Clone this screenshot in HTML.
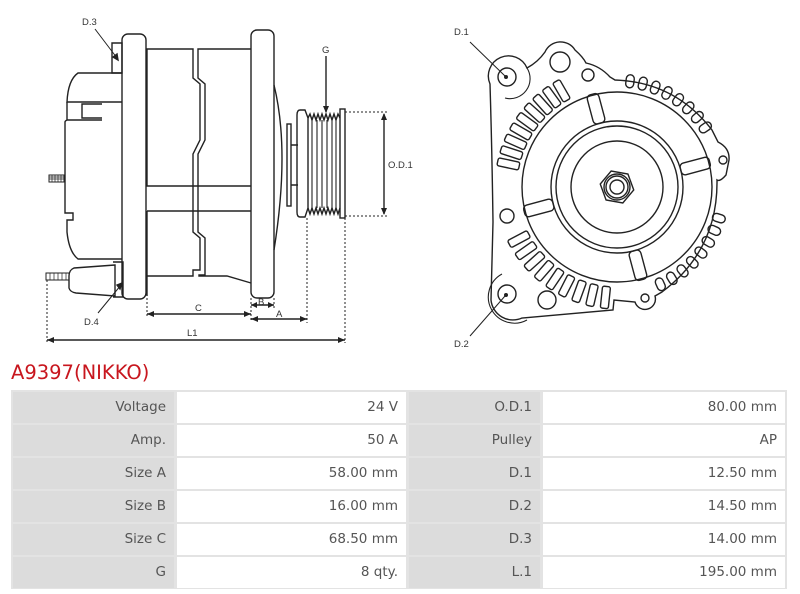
<!DOCTYPE html>
<html><head><meta charset="utf-8"><style>
body{margin:0;width:800px;height:594px;background:#fff;position:relative;overflow:hidden;font-family:"DejaVu Sans","Liberation Sans",sans-serif}
svg{position:absolute;left:0;top:0}
.t{position:absolute;left:11px;top:390px;width:776px;height:199px;background:#e3e3e3}
.c{position:absolute;height:31px;line-height:31px;text-align:right;font-size:13.5px;color:#555;box-sizing:border-box;padding-right:8px}
.g{background:#dcdcdc}.w{background:#fff}
h1{position:absolute;left:11px;top:361px;margin:0;font-weight:normal;font-size:19.5px;color:#c8161e;font-family:"DejaVu Sans",sans-serif}
</style></head><body>
<svg width="800" height="360" viewBox="0 0 800 360" fill="none" stroke="#222" stroke-width="1.4">
<!-- left drawing -->
<path d="M112,43 H122 V73 H112 Z"/>
<path d="M122,73 H78 Q68,80 67,102 H122"/>
<path d="M102,104 H82 V118 H102"/>
<path d="M67,102 V120 H102 M67,120 Q65,121 65,122 V213 H73 V220 H67 V232 Q69,252 78,259 H122"/>
<rect x="49" y="175" width="15" height="7" stroke-width="1"/>
<path d="M49,177 H64 M49,179 H64 M52,175 V182 M55,175 V182 M58,175 V182 M61,175 V182" stroke-width="0.7"/>
<path d="M115,265 L74,268 Q69,270 69,276 V288 Q70,292 76,293 L115,296 Z"/>
<path d="M113,262 H123 V297 H113"/>
<rect x="46" y="273" width="23" height="7" stroke-width="1"/>
<path d="M50,273 V280 M54,273 V280 M58,273 V280 M62,273 V280 M66,273 V280" stroke-width="0.7"/>
<rect x="122" y="34" width="24" height="265" rx="6"/>
<rect x="251" y="30" width="23" height="268" rx="6"/>
<path d="M146,49 H193 V78 L200,84 V140 L193,154 V232 L200,238 V270 H193 V276 H147"/>
<path d="M251,49 H198 V78 L205,84 V140 L198,154 V232 L205,238 V275 H199 V276 H227 L251,283"/>
<path d="M147,49 V186 H251 M147,211 H251 M147,211 V296"/>
<path d="M274,85 Q290,150 274,250"/>
<rect x="287" y="124" width="4" height="82"/>
<path d="M291,145 H298 M291,185 H298"/>
<path d="M300,110 H305 L308,118 V208 L305,217 H300 Q297,217 297,212 V115 Q297,110 300,110 Z"/>
<rect x="340" y="109" width="5" height="109"/>
<path d="M308,118 L310,114 L312,120 L314,114 L316,120 L318,114 L320,120 L322,114 L324,120 L326,114 L328,120 L330,114 L332,120 L334,114 L336,120 L338,114 L340,118"/>
<path d="M308,208 L310,214 L312,208 L314,214 L316,208 L318,214 L320,208 L322,214 L324,208 L326,214 L328,208 L330,214 L332,208 L334,214 L336,208 L338,214 L340,208"/>
<path d="M312,120 V208 M317,120 V208 M322,120 V208 M327,120 V208 M332,120 V208 M336,120 V208" stroke-width="1.1"/>
<g stroke-dasharray="2,2" stroke-width="1">
<path d="M345,112 H388 M345,216 H388 M147,298 V318 M251,298 V322 M274,298 V309 M307,218 V323 M345,218 V343 M47,280 V343"/>
</g>
<path d="M384,114 V214 M147,314 H251 M251,305 H274 M251,319 H307 M47,340 H345 M326,56 V112"/>
<g fill="#222" stroke="none">
<path d="M384,113 l-3,7 h6z M384,215 l-3,-7 h6z M147,314 l7,-3 v6z M251,314 l-7,-3 v6z M251,305 l6,-3 v6z M274,305 l-6,-3 v6z M251,319 l7,-3 v6z M307,319 l-7,-3 v6z M47,340 l7,-3 v6z M345,340 l-7,-3 v6z M326,113 l-3,-7 h6z"/>
</g>
<path d="M95,29 L117,58 M98,313 L121,285" stroke-width="1"/>
<path d="M118,60 l-1,-6 l-4,3z M122,283 l-5,2 l3,4z" fill="#222"/>
<g font-family="Liberation Sans,sans-serif" font-size="9.5" fill="#333" stroke="none">
<text x="82" y="25">D.3</text><text x="84" y="325">D.4</text>
<text x="322" y="53">G</text><text x="388" y="168">O.D.1</text>
<text x="195" y="311">C</text><text x="258" y="305">B</text><text x="276" y="317">A</text><text x="187" y="336">L1</text>
<text x="454" y="35">D.1</text><text x="454" y="347">D.2</text>
</g>
<!-- right drawing -->
<path d="M490,84 A20,20 0 0 1 527,68 Q538,62 545,52 A17,17 0 0 1 575,50 Q583,57 586,63 Q600,66 610,77 L615,80 Q675,82 712,130 L718,142 Q730,148 729,160 L726,175 Q720,182 717,180 Q718,250 662,292 L655,296 A10,10 0 0 1 635,302 L614,300 L613,310 L522,318 A22,22 0 0 1 491,300 L493,222 Q492,150 490,84 Z"/>
<circle cx="507" cy="77" r="9"/><circle cx="560" cy="62" r="10"/><circle cx="588" cy="75" r="6"/>
<circle cx="507" cy="216" r="7"/><circle cx="507" cy="294" r="9"/><circle cx="547" cy="300" r="9"/>
<circle cx="645" cy="298" r="4"/><circle cx="723" cy="160" r="4"/>
<path d="M527,68 A20,20 0 0 1 505,98 M527,320 A20,20 0 0 1 502,274" stroke-width="1.1"/>
<circle cx="617" cy="187" r="95"/>
<circle cx="617" cy="187" r="66"/><circle cx="617" cy="187" r="61"/><circle cx="617" cy="187" r="46"/>
<polygon points="634,187 625.5,201.7 608.5,201.7 600,187 608.5,172.3 625.5,172.3" transform="rotate(10 617 187)"/>
<circle cx="617" cy="187" r="13"/><circle cx="617" cy="187" r="11"/><circle cx="617" cy="187" r="7"/>
<g>
<rect x="683" y="181" width="30" height="12" rx="4" transform="rotate(-105 617 187)"/>
<rect x="683" y="181" width="30" height="12" rx="4" transform="rotate(-15 617 187)"/>
<rect x="683" y="181" width="30" height="12" rx="4" transform="rotate(75 617 187)"/>
<rect x="683" y="181" width="30" height="12" rx="4" transform="rotate(165 617 187)"/>
</g>
<g>
<rect x="717" y="183" width="22" height="8" rx="2" transform="rotate(192 617 187)"/>
<rect x="717" y="183" width="22" height="8" rx="2" transform="rotate(198 617 187)"/>
<rect x="717" y="183" width="22" height="8" rx="2" transform="rotate(204 617 187)"/>
<rect x="717" y="183" width="22" height="8" rx="2" transform="rotate(210 617 187)"/>
<rect x="717" y="183" width="22" height="8" rx="2" transform="rotate(216 617 187)"/>
<rect x="717" y="183" width="22" height="8" rx="2" transform="rotate(222 617 187)"/>
<rect x="717" y="183" width="22" height="8" rx="2" transform="rotate(228 617 187)"/>
<rect x="717" y="183" width="22" height="8" rx="2" transform="rotate(234 617 187)"/>
<rect x="717" y="183" width="22" height="8" rx="2" transform="rotate(240 617 187)"/>
<rect x="717" y="183" width="22" height="8" rx="2" transform="rotate(96 617 187)"/>
<rect x="717" y="183" width="22" height="8" rx="2" transform="rotate(103 617 187)"/>
<rect x="717" y="183" width="22" height="8" rx="2" transform="rotate(110 617 187)"/>
<rect x="717" y="183" width="22" height="8" rx="2" transform="rotate(117 617 187)"/>
<rect x="717" y="183" width="22" height="8" rx="2" transform="rotate(124 617 187)"/>
<rect x="717" y="183" width="22" height="8" rx="2" transform="rotate(131 617 187)"/>
<rect x="717" y="183" width="22" height="8" rx="2" transform="rotate(138 617 187)"/>
<rect x="717" y="183" width="22" height="8" rx="2" transform="rotate(145 617 187)"/>
<rect x="717" y="183" width="22" height="8" rx="2" transform="rotate(152 617 187)"/>
</g>
<g>
<rect x="717" y="183" width="13" height="8" rx="4" transform="rotate(-83 617 187)"/>
<rect x="717" y="183" width="13" height="8" rx="4" transform="rotate(-76 617 187)"/>
<rect x="717" y="183" width="13" height="8" rx="4" transform="rotate(-69 617 187)"/>
<rect x="717" y="183" width="13" height="8" rx="4" transform="rotate(-62 617 187)"/>
<rect x="717" y="183" width="13" height="8" rx="4" transform="rotate(-55 617 187)"/>
<rect x="717" y="183" width="13" height="8" rx="4" transform="rotate(-48 617 187)"/>
<rect x="717" y="183" width="13" height="8" rx="4" transform="rotate(-41 617 187)"/>
<rect x="717" y="183" width="13" height="8" rx="4" transform="rotate(-34 617 187)"/>
<rect x="717" y="183" width="13" height="8" rx="4" transform="rotate(17 617 187)"/>
<rect x="717" y="183" width="13" height="8" rx="4" transform="rotate(24 617 187)"/>
<rect x="717" y="183" width="13" height="8" rx="4" transform="rotate(31 617 187)"/>
<rect x="717" y="183" width="13" height="8" rx="4" transform="rotate(38 617 187)"/>
<rect x="717" y="183" width="13" height="8" rx="4" transform="rotate(45 617 187)"/>
<rect x="717" y="183" width="13" height="8" rx="4" transform="rotate(52 617 187)"/>
<rect x="717" y="183" width="13" height="8" rx="4" transform="rotate(59 617 187)"/>
<rect x="717" y="183" width="13" height="8" rx="4" transform="rotate(66 617 187)"/>
</g>
<path d="M470,42 L505,76 M470,336 L505,296" stroke-width="1"/>
<circle cx="506" cy="77" r="1.3" fill="#222"/><circle cx="506" cy="295" r="1.3" fill="#222"/>
</svg>
<h1>A9397(NIKKO)</h1>
<div class="t">
<div class="c g" style="left:2px;top:2px;width:161px">Voltage</div><div class="c w" style="left:166px;top:2px;width:229px">24 V</div><div class="c g" style="left:398px;top:2px;width:131px">O.D.1</div><div class="c w" style="left:532px;top:2px;width:242px">80.00 mm</div>
<div class="c g" style="left:2px;top:35px;width:161px">Amp.</div><div class="c w" style="left:166px;top:35px;width:229px">50 A</div><div class="c g" style="left:398px;top:35px;width:131px">Pulley</div><div class="c w" style="left:532px;top:35px;width:242px">AP</div>
<div class="c g" style="left:2px;top:68px;width:161px">Size A</div><div class="c w" style="left:166px;top:68px;width:229px">58.00 mm</div><div class="c g" style="left:398px;top:68px;width:131px">D.1</div><div class="c w" style="left:532px;top:68px;width:242px">12.50 mm</div>
<div class="c g" style="left:2px;top:101px;width:161px">Size B</div><div class="c w" style="left:166px;top:101px;width:229px">16.00 mm</div><div class="c g" style="left:398px;top:101px;width:131px">D.2</div><div class="c w" style="left:532px;top:101px;width:242px">14.50 mm</div>
<div class="c g" style="left:2px;top:134px;width:161px">Size C</div><div class="c w" style="left:166px;top:134px;width:229px">68.50 mm</div><div class="c g" style="left:398px;top:134px;width:131px">D.3</div><div class="c w" style="left:532px;top:134px;width:242px">14.00 mm</div>
<div class="c g" style="left:2px;top:167px;width:161px">G</div><div class="c w" style="left:166px;top:167px;width:229px">8 qty.</div><div class="c g" style="left:398px;top:167px;width:131px">L.1</div><div class="c w" style="left:532px;top:167px;width:242px">195.00 mm</div>
</div>
</body></html>
